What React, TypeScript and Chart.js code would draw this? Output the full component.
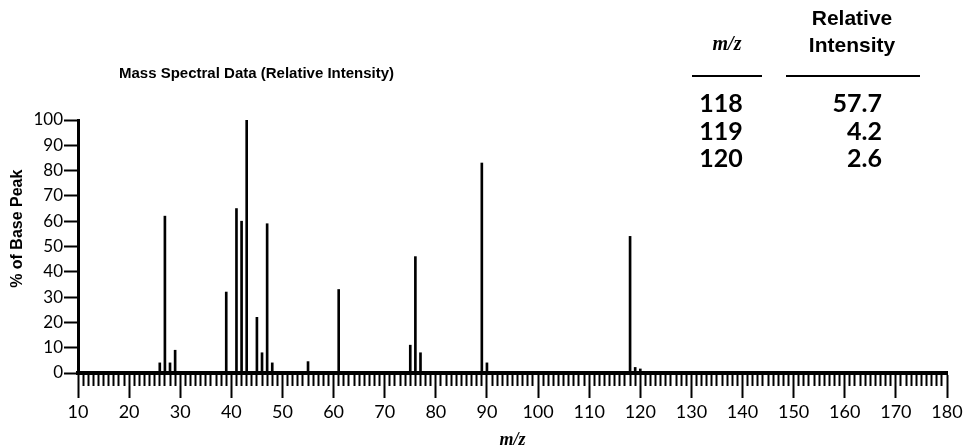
import React, { useEffect, useRef } from 'react';
import { Chart, registerables } from 'chart.js';

Chart.register(...registerables);

// ---- data ----
const mzValues = [26, 27, 28, 29, 39, 41, 42, 43, 45, 46, 47, 48, 55, 61, 75, 76, 77, 89, 90, 118, 119, 120];
const intensities = [4, 62, 4, 9, 32, 65, 60, 100, 22, 8, 59, 4, 4.5, 33, 11, 46, 8, 83, 4, 54, 2.2, 1.6];
const xMajorTicks = [10, 20, 30, 40, 50, 60, 70, 80, 90, 100, 110, 120, 130, 140, 150, 160, 170, 180];
const yTickValues = [0, 10, 20, 30, 40, 50, 60, 70, 80, 90, 100];
const tableMz = ['118', '119', '120'];
const tableIntensity = ['57.7', '4.2', '2.6'];
const chartTitle = 'Mass Spectral Data (Relative Intensity)';
const yAxisTitle = '% of Base Peak';
const xAxisTitle = 'm/z';

const tickFont = 'Lato, "DejaVu Sans", sans-serif';

export default function App() {
  const canvasRef = useRef<HTMLCanvasElement | null>(null);

  useEffect(() => {
    const canvas = canvasRef.current;
    if (!canvas) return;
    const chart = new Chart(canvas, {
      type: 'bar',
      data: {
        datasets: [
          {
            data: mzValues.map((x, i) => ({ x, y: intensities[i] })),
            backgroundColor: '#000',
            borderWidth: 0,
            barThickness: 2,
          },
        ],
      },
      options: {
        animation: false,
        responsive: false,
        devicePixelRatio: 1,
        layout: { padding: { left: 0, right: 20, top: 120, bottom: 0 } },
        plugins: {
          legend: { display: false },
          tooltip: { enabled: false },
        },
        scales: {
          x: {
            type: 'linear',
            min: 10,
            max: 180,
            offset: false,
            afterFit: (s: any) => {
              s.height = 75;
            },
            border: { display: true, color: '#000', width: 4 },
            grid: {
              offset: false,
              drawOnChartArea: false,
              drawTicks: true,
              tickLength: 25,
              tickWidth: 2,
              tickColor: '#000',
              tickBorderDash: (ctx: any) =>
                ctx.tick && xMajorTicks.includes(ctx.tick.value) ? [] : [11, 100],
            },
            ticks: {
              stepSize: 1,
              autoSkip: false,
              maxRotation: 0,
              minRotation: 0,
              padding: 3,
              color: '#000',
              font: { family: tickFont, size: 18 },
              callback: (v: any) => (xMajorTicks.includes(Number(v)) ? String(v) : ''),
            },
            title: {
              display: true,
              text: xAxisTitle,
              color: '#000',
              font: { family: '"Liberation Serif", serif', style: 'italic', weight: 'bold', size: 18, lineHeight: 1 },
              padding: { top: 0, bottom: -1 },
            },
          },
          y: {
            type: 'linear',
            min: 0,
            max: 100,
            afterFit: (s: any) => {
              s.width = 78;
            },
            border: { display: true, color: '#000', width: 3 },
            grid: {
              drawOnChartArea: false,
              drawTicks: true,
              tickLength: 14,
              tickWidth: 2,
              tickColor: '#000',
            },
            afterBuildTicks: (s: any) => {
              s.ticks = yTickValues.map((v) => ({ value: v }));
            },
            ticks: {
              padding: 1,
              color: '#000',
              font: { family: tickFont, size: 17 },
              callback: (v: any) => String(v),
            },
            title: {
              display: true,
              text: '        ' + yAxisTitle,
              color: '#000',
              font: { family: '"Liberation Sans", Arial, sans-serif', weight: 'bold', size: 16 },
              padding: { top: 8, bottom: 0 },
            },
          },
        },
      },
    });
    return () => chart.destroy();
  }, []);

  const abs = (style: React.CSSProperties): React.CSSProperties => ({ position: 'absolute', margin: 0, whiteSpace: 'nowrap', ...style });
  const headFont = '"Liberation Sans", Arial, sans-serif';
  const numFont = 'Lato, "DejaVu Sans", sans-serif';

  return (
    <div style={{ position: 'fixed', left: 0, top: 0, width: 967, height: 448, background: '#fff', overflow: 'hidden' }}>
      <canvas ref={canvasRef} width={967} height={448} style={{ position: 'absolute', left: 0, top: 0, width: 967, height: 448 }} />
      <div style={abs({ left: 119, top: 63, fontFamily: headFont, fontWeight: 'bold', fontSize: 15, lineHeight: '20px', color: '#000' })}>
        {chartTitle}
      </div>
      {/* table header */}
      <div style={abs({ left: 784, width: 136, top: 4, textAlign: 'center', fontFamily: headFont, fontWeight: 'bold', fontSize: 21, lineHeight: '27px', color: '#000' })}>
        Relative
        <br />
        Intensity
      </div>
      <div style={abs({ left: 692, width: 70, top: 30, textAlign: 'center', fontFamily: '"Liberation Serif", serif', fontStyle: 'italic', fontWeight: 'bold', fontSize: 20, lineHeight: '27px', color: '#000' })}>
        {xAxisTitle}
      </div>
      <div style={abs({ left: 692, width: 70, top: 75, height: 2, background: '#000' })} />
      <div style={abs({ left: 786, width: 134, top: 75, height: 2, background: '#000' })} />
      {tableMz.map((m, i) => (
        <div key={'m' + i} style={abs({ left: 690, width: 62, top: 87 + i * 27.5, textAlign: 'center', fontFamily: numFont, fontWeight: 'bold', fontSize: 25, lineHeight: '30px', color: '#000' })}>
          {m}
        </div>
      ))}
      {tableIntensity.map((v, i) => (
        <div key={'v' + i} style={abs({ left: 794, width: 88, top: 87 + i * 27.5, textAlign: 'right', fontFamily: numFont, fontWeight: 'bold', fontSize: 25, lineHeight: '30px', color: '#000' })}>
          {v}
        </div>
      ))}
    </div>
  );
}
